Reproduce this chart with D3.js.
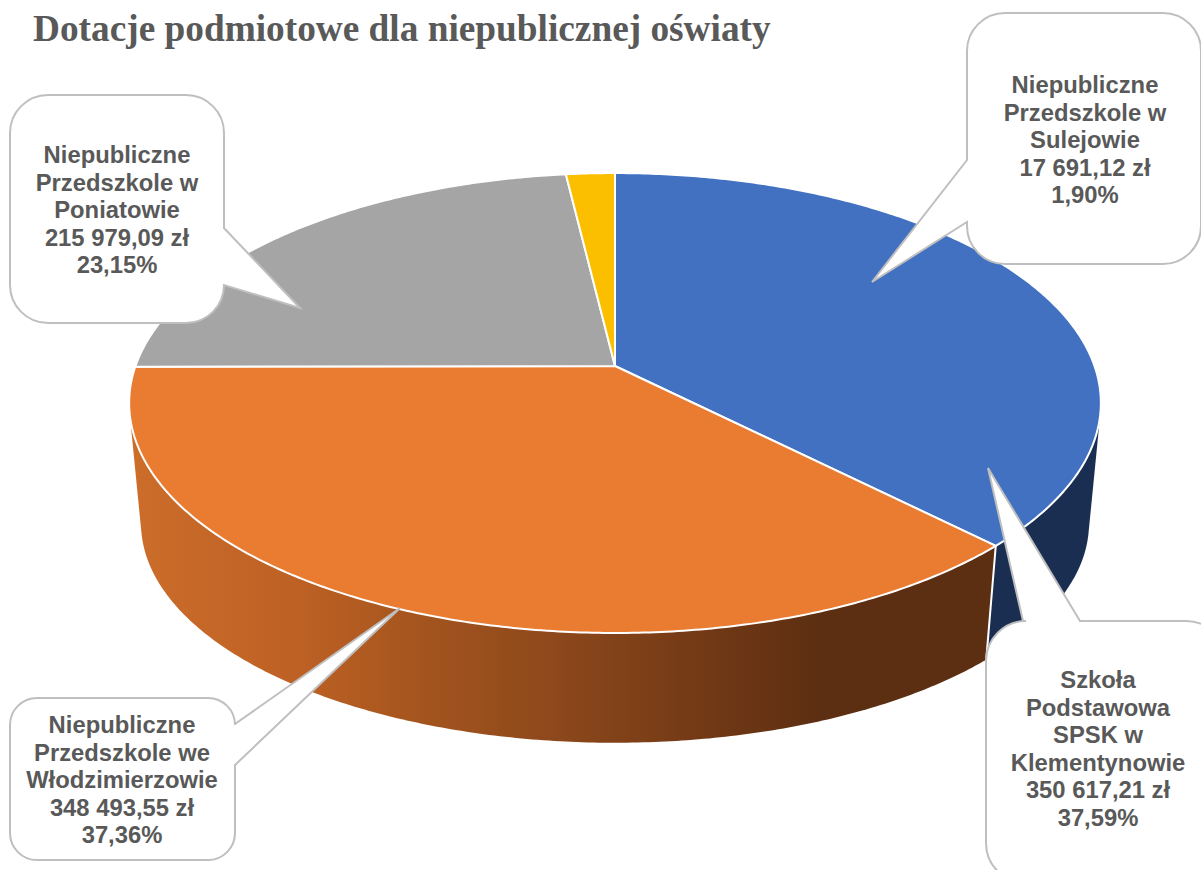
<!DOCTYPE html>
<html><head><meta charset="utf-8">
<script src="https://cdn.jsdelivr.net/npm/d3@7/dist/d3.min.js"></script>
<style>html,body{margin:0;padding:0;background:#fff;overflow:hidden}svg{display:block}</style>
</head><body>
<script>
const chartTitle = "Dotacje podmiotowe dla niepublicznej oświaty";
const schools = ["Szkoła Podstawowa SPSK w Klementynowie","Niepubliczne Przedszkole we Włodzimierzowie","Niepubliczne Przedszkole w Poniatowie","Niepubliczne Przedszkole w Sulejowie"];
const amounts = [350617.21, 348493.55, 215979.09, 17691.12];
const amountLabels = ["350 617,21 zł","348 493,55 zł","215 979,09 zł","17 691,12 zł"];
const percentLabels = ["37,59%","37,36%","23,15%","1,90%"];
const nameLines = [["Szkoła","Podstawowa","SPSK w","Klementynowie"],["Niepubliczne","Przedszkole we","Włodzimierzowie"],["Niepubliczne","Przedszkole w","Poniatowie"],["Niepubliczne","Przedszkole w","Sulejowie"]];
const topColors = ["#4271C1","#EA7C31","#A5A5A5","#FBBF00"];
const wallColors = ["#1A2E52","url(#orangeWall)","#636363","#997300"];
const wallOrder = [3,2,0,1];

// callout geometry (layout only), same order as the schools
const callouts = [
  {x:986,y:621,w:240,h:262,r:40,side:"top",a:1023,b:1080,tip:[988,468],cx:1098,base:688},
  {x:10,y:698,w:225,h:162,r:27,side:"right",a:724,b:765,tip:[400,608],cx:122,base:733},
  {x:10,y:95,w:214,h:228,r:38,side:"right",a:228,b:285,tip:[300,308],cx:117,base:163},
  {x:967,y:13,w:234,h:251,r:38,side:"left",a:222,b:160,tip:[872,282],cx:1085,base:93}
];

const W = 1201, H = 870, cx = 615;
const topRing = {a:479.5, b:224, c:366, k:-0.161};
const lowRing = {a:467.9, b:214, c:488, k:-0.16};
function project(t, g){
  const u = Math.sin(t), v = -Math.cos(t), d = 1 + g.k*v;
  return [cx + g.a*u/d, g.c + g.b*v/d];
}
function arcPts(t0,t1,g){
  const n = Math.max(2, Math.ceil((t1-t0)/0.01));
  return d3.range(n+1).map(i=>project(t0+(t1-t0)*i/n,g));
}
const line = d3.line();
const arcs = d3.pie().sort(null).startAngle(0).endAngle(2*Math.PI)(amounts);

const svg = d3.select("body").append("svg").attr("width",W).attr("height",H);
const grad = svg.append("defs").append("linearGradient").attr("id","orangeWall")
  .attr("gradientUnits","userSpaceOnUse").attr("x1",130).attr("x2",1000).attr("y1",0).attr("y2",0);
[[0,"#CC6D2A"],[0.2,"#BC6024"],[0.33,"#A5551E"],[0.5,"#8B471B"],[0.7,"#6C3614"],[0.8,"#5C2E12"],[1,"#5C2E12"]]
  .forEach(s=>grad.append("stop").attr("offset",s[0]).attr("stop-color",s[1]));

// walls: hull of each slice's top and bottom rim, back slices first
svg.append("g").selectAll("path").data(wallOrder.map(i=>arcs[i])).join("path")
  .attr("d",d=>{
    const pts = arcPts(d.startAngle,d.endAngle,topRing).concat(arcPts(d.startAngle,d.endAngle,lowRing));
    return line(d3.polygonHull(pts))+"Z";
  })
  .attr("fill",d=>wallColors[d.index]);
// seams on the visible front of the side wall
svg.append("g").selectAll("path").data(arcs.filter(d=>Math.cos(d.endAngle)<-0.1))
  .join("path")
  .attr("d",d=>line([project(d.endAngle,topRing),project(d.endAngle,lowRing)]))
  .attr("stroke","#fff").attr("stroke-width",2).attr("fill","none");
// top face
svg.append("g").selectAll("path").data(arcs).join("path")
  .attr("d",d=>line([[cx,topRing.c]].concat(arcPts(d.startAngle,d.endAngle,topRing)))+"Z")
  .attr("fill",d=>topColors[d.index])
  .attr("stroke","#fff").attr("stroke-width",2).attr("stroke-linejoin","round");

// title
svg.append("text").attr("x",33).attr("y",41).text(chartTitle)
  .attr("font-family","'Liberation Serif',serif").attr("font-weight","bold")
  .attr("font-size",37.3).attr("fill","#595959");

function calloutPath(c){
  const {x,y,w,h,r}=c, R=x+w, B=y+h;
  const p=d3.path();
  p.moveTo(x+r,y);
  if(c.side==="top"){p.lineTo(c.a,y);p.lineTo(c.tip[0],c.tip[1]);p.lineTo(c.b,y);}
  p.lineTo(R-r,y); p.arcTo(R,y,R,y+r,r);
  if(c.side==="right"){p.lineTo(R,c.a);p.lineTo(c.tip[0],c.tip[1]);p.lineTo(R,c.b);}
  p.lineTo(R,B-r); p.arcTo(R,B,R-r,B,r);
  p.lineTo(x+r,B); p.arcTo(x,B,x,B-r,r);
  if(c.side==="left"){p.lineTo(x,c.a);p.lineTo(c.tip[0],c.tip[1]);p.lineTo(x,c.b);}
  p.lineTo(x,y+r); p.arcTo(x,y,x+r,y,r);
  p.closePath();
  return p.toString();
}
const cg = svg.append("g").selectAll("g").data(callouts).join("g");
cg.append("path").attr("d",calloutPath).attr("fill","#fff").attr("stroke","#BFBFBF").attr("stroke-width",2);
cg.each(function(c,i){
  const rows = nameLines[i].concat([amountLabels[i],percentLabels[i]]);
  d3.select(this).selectAll("text").data(rows).join("text")
    .attr("x",c.cx).attr("y",(d,j)=>c.base+j*27.6).attr("text-anchor","middle")
    .attr("font-family","'Liberation Sans',Arial,sans-serif").attr("font-weight","bold")
    .attr("font-size",23.8).attr("fill","#595959").text(d=>d);
});
</script>
</body></html>
